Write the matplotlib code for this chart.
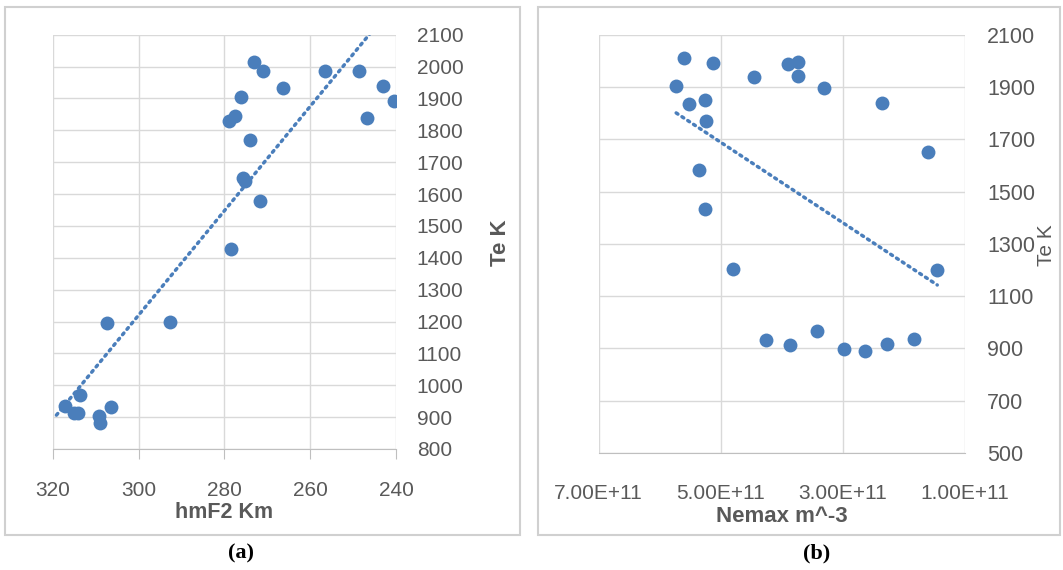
import numpy as np
import matplotlib.pyplot as plt
from matplotlib.patches import Rectangle

# (a) hmF2 vs Te
hmf2 = [273.1, 271.0, 266.4, 256.5, 248.7, 243.1, 240.5, 246.8, 276.2, 277.6,
        279.0, 274.0, 275.6, 275.2, 271.8, 278.4, 307.3, 292.7, 313.7, 317.2,
        315.2, 314.2, 306.5, 309.3, 309.0]
te_a = [2014, 1987, 1934, 1985, 1986, 1940, 1892, 1839, 1903, 1846,
        1830, 1769, 1650, 1641, 1578, 1426, 1194, 1197, 969, 934,
        914, 914, 933, 904, 882]

# (b) Nemax vs Te
nemax = [5.60e11, 5.13e11, 5.73e11, 5.52e11, 5.25e11, 5.24e11, 4.45e11, 3.89e11,
         3.73e11, 3.74e11, 3.30e11, 2.36e11, 1.60e11, 5.36e11, 5.25e11, 4.80e11,
         1.45e11, 4.25e11, 3.86e11, 3.42e11, 2.98e11, 2.63e11, 2.28e11, 1.83e11]
te_b = [2010, 1993, 1903, 1836, 1849, 1771, 1937, 1988,
        1996, 1943, 1896, 1839, 1650, 1581, 1433, 1204,
        1199, 931, 912, 965, 897, 889, 916, 935]

xt_b = [7e11, 5e11, 3e11, 1e11]
xt_b_labels = ['7.00E+11', '5.00E+11', '3.00E+11', '1.00E+11']

blue = '#4a7ebb'
grid = '#d9d9d9'
txt = '#595959'
W, H = 1063, 570

plt.rcParams['font.family'] = ['Liberation Sans', 'DejaVu Sans']

fig = plt.figure(figsize=(W / 100, H / 100), dpi=100)

def px(x0, y0, x1, y1):
    return [x0 / W, 1 - y1 / H, (x1 - x0) / W, (y1 - y0) / H]

def style(ax):
    ax.grid(True, color=grid, lw=1)
    ax.set_axisbelow(True)
    for s in ax.spines.values():
        s.set_visible(False)
    ax.spines['bottom'].set_visible(True)
    ax.spines['bottom'].set_color('#bfbfbf')
    ax.yaxis.tick_right()
    ax.tick_params(axis='y', length=0, pad=15, labelsize=15, labelcolor=txt)

# panel (a)
ax1 = fig.add_axes(px(53, 34.7, 396, 449))
style(ax1)
ax1.scatter(hmf2, te_a, s=100, color=blue, zorder=3, linewidths=0)
k, b = np.polyfit(hmf2, te_a, 1)
xs = np.array([max(hmf2) + 2, min(hmf2)])
ax1.plot(xs, k * xs + b, color=blue, lw=2.5, ls=(0, (0.6, 1.4)),
         dash_capstyle='round', zorder=2)
ax1.set_xlim(320, 240)
ax1.set_ylim(800, 2100)
ax1.set_xticks([320, 300, 280, 260, 240])
ax1.set_yticks(range(800, 2101, 100))
ax1.tick_params(axis='x', length=7, color='#bfbfbf', pad=16, labelsize=15,
                labelcolor=txt)

# panel (b)
ax2 = fig.add_axes(px(598.7, 34.7, 964.7, 453))
style(ax2)
ax2.scatter(nemax, te_b, s=100, color=blue, zorder=3, linewidths=0)
k2, b2 = np.polyfit(nemax, te_b, 1)
xs2 = np.array([max(nemax), min(nemax)])
ax2.plot(xs2, k2 * xs2 + b2, color=blue, lw=2.5, ls=(0, (0.6, 1.4)),
         dash_capstyle='round', zorder=2)
ax2.set_xlim(7e11, 1e11)
ax2.set_ylim(500, 2100)
ax2.set_xticks(xt_b)
ax2.set_xticklabels(xt_b_labels)
ax2.set_yticks(range(500, 2101, 200))
ax2.tick_params(axis='x', length=0, pad=22, labelsize=15, labelcolor=txt)
ax2.tick_params(axis='y', labelsize=15.5, pad=16)

# axis titles
fig.text(224 / W, 1 - 513 / H, 'hmF2 Km', ha='center', va='center',
         fontsize=15.5, fontweight='bold', color=txt)
fig.text(500 / W, 1 - 243 / H, 'Te K', ha='center', va='center', rotation=90,
         fontsize=16, fontweight='bold', color=txt)
fig.text(782 / W, 1 - 517 / H, 'Nemax m^-3', ha='center', va='center',
         fontsize=16, fontweight='bold', color=txt)
fig.text(1046 / W, 1 - 245 / H, 'Te K', ha='center', va='center', rotation=90,
         fontsize=15, color=txt)

# panel frames
for x0, x1 in [(5, 520), (538, 1060)]:
    fig.add_artist(Rectangle((x0 / W, 1 - 535 / H), (x1 - x0) / W, 528 / H,
                             transform=fig.transFigure, fill=False,
                             edgecolor='#d0d0d0', lw=1.5))

fig.text(241 / W, 1 - 553 / H, '(a)', ha='center', va='center', fontsize=16,
         fontweight='bold', family='Liberation Serif')
fig.text(817 / W, 1 - 553 / H, '(b)', ha='center', va='center', fontsize=16,
         fontweight='bold', family='Liberation Serif')

fig.savefig('out.png', dpi=100)
